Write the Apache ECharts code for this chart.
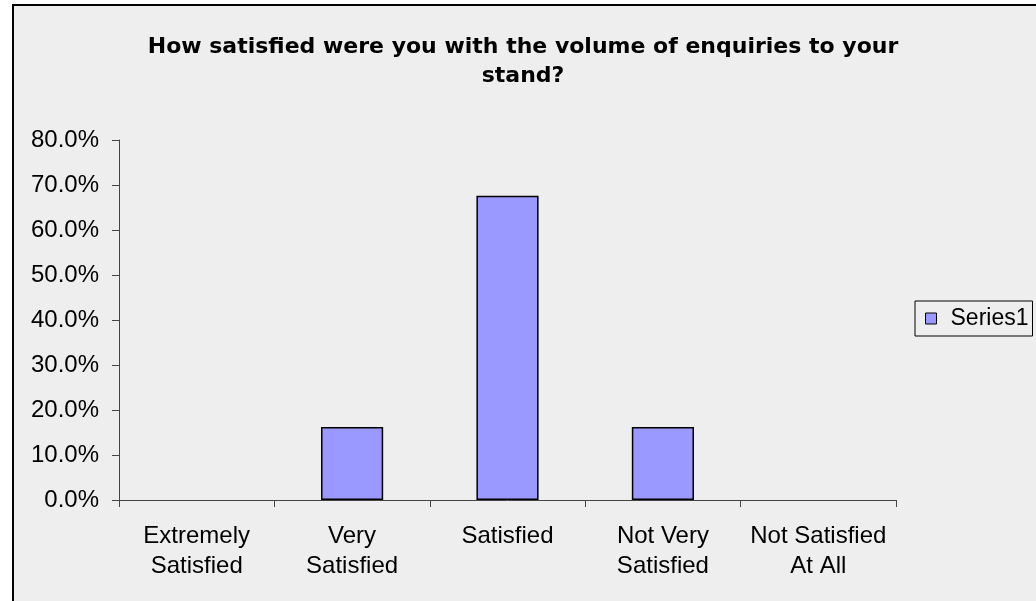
<!DOCTYPE html>
<html>
<head>
<meta charset="utf-8">
<script src="https://cdn.jsdelivr.net/npm/echarts@6/dist/echarts.min.js"></script>
<style>html,body{margin:0;padding:0;background:#fff;}#c{width:1036px;height:601px;}</style>
</head>
<body>
<div id="c"></div>
<script>
const categories = ['Extremely\nSatisfied', 'Very\nSatisfied', 'Satisfied', 'Not Very\nSatisfied', 'Not Satisfied\nAt All'];
const series1 = [0, 16.2, 67.6, 16.2, 0];
const yTicks = { min: 0, max: 80, interval: 10 };
const titleText = 'How satisfied were you with the volume of enquiries to your\nstand?';
const seriesName = 'Series1';

const font = 'Liberation Sans, Arial, sans-serif';
const chart = echarts.init(document.getElementById('c'));
chart.setOption({
  backgroundColor: '#ffffff',
  animation: false,
  graphic: [{
    type: 'rect', z: -10, silent: true,
    shape: { x: 13, y: 5, width: 1040, height: 610 },
    style: { fill: '#eeeeee', stroke: '#000000', lineWidth: 2 }
  }],
  title: {
    text: titleText, left: 518, textAlign: 'center', top: 28,
    textStyle: { fontFamily: 'DejaVu Sans', fontSize: 22, fontWeight: 'bold', color: '#000', lineHeight: 29 }
  },
  legend: {
    data: [seriesName], left: 915, top: 301, orient: 'vertical',
    icon: 'rect', itemWidth: 11, itemHeight: 11, itemGap: 5,
    padding: [6, 4, 6, 10],
    borderColor: '#000', borderWidth: 1, backgroundColor: '#eeeeee', borderRadius: 0,
    textStyle: { fontFamily: font, fontSize: 23, color: '#000', padding: [0, 0, 0, 9] },
    itemStyle: { borderColor: '#000', borderWidth: 1 }
  },
  grid: { left: 119, right: 140, top: 140, bottom: 101, containLabel: false },
  xAxis: {
    type: 'category', data: categories,
    axisLine: { lineStyle: { color: '#444', width: 1 } },
    axisTick: { show: true, length: 7, lineStyle: { color: '#444' } },
    axisLabel: { fontFamily: font, fontSize: 24, color: '#000', lineHeight: 30, margin: 21, interval: 0 }
  },
  yAxis: {
    type: 'value', min: yTicks.min, max: yTicks.max, interval: yTicks.interval,
    splitLine: { show: false },
    axisLine: { show: true, lineStyle: { color: '#444', width: 1 } },
    axisTick: { show: true, length: 7, lineStyle: { color: '#444' } },
    axisLabel: { fontFamily: font, fontSize: 24, color: '#000', margin: 20, formatter: v => v.toFixed(1) + '%' }
  },
  series: [{
    name: seriesName, type: 'bar',
    data: series1.map(v => v === 0 ? { value: v, itemStyle: { borderWidth: 0, opacity: 0 } } : v),
    barCategoryGap: '60%',
    itemStyle: { color: '#9999ff', borderColor: '#000', borderWidth: 1.5 }
  }]
});
</script>
</body>
</html>
